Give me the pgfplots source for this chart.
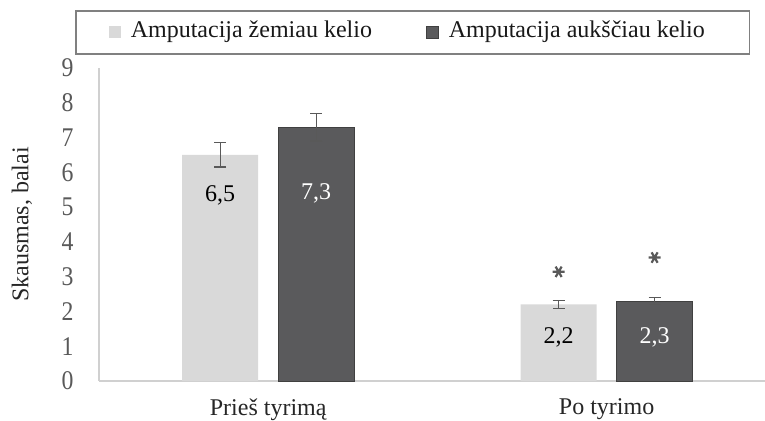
\documentclass[border=0pt]{standalone}
\usepackage{fontspec}
\setmainfont{Liberation Serif}
\usepackage{graphicx}
\usepackage{pgfplots}
\pgfplotsset{compat=1.18}
\definecolor{lightbar}{HTML}{D9D9D9}
\definecolor{darkbar}{HTML}{5A5A5C}
\definecolor{errc}{HTML}{595959}
\definecolor{axisc}{HTML}{D0D0D0}
\definecolor{tickc}{HTML}{595959}
\definecolor{legc}{HTML}{808080}
\pgfplotsset{mylegend/.style={legend image code/.code={\fill[##1] (0pt,-3pt) rectangle (6pt,3pt);}}}
\begin{document}
\begin{tikzpicture}
\begin{axis}[
  at={(0,0)}, anchor=south west,
  scale only axis, width=333pt, height=156.5pt,
  xmin=-0.5, xmax=1.468, ymin=0, ymax=9,
  axis x line*=bottom, axis y line*=left,
  axis line style={draw=axisc, line width=0.6pt},
  xtick={0,1}, xticklabels={Prieš tyrimą, Po tyrimo},
  ytick={0,1,...,9},
  yticklabel={\scalebox{0.88}[1]{\pgfmathprintnumber{\tick}}},
  major tick length=0pt,
  tick style={draw=none},
  /pgf/number format/assume math mode=true,
  yticklabel style={font=\fontsize{13.5}{15}\selectfont, text=tickc, inner sep=0pt, xshift=-12.5pt},
  xticklabel style={font=\fontsize{12}{14}\selectfont, text=black!85, inner sep=0pt, anchor=north, yshift=-8.5pt},
  ylabel={Skausmas, balai},
  ylabel style={font=\fontsize{12}{14}\selectfont, text=black!85, at={(axis description cs:-0.1156,0.5)}, anchor=center},
  legend columns=2,
  legend style={at={(axis description cs:-0.036,1.185)}, anchor=north west, draw=legc, line width=0.75pt,
    inner xsep=16.5pt, inner ysep=5pt,
    nodes={inner sep=0pt, text height=8.5pt, text depth=3pt, font=\fontsize{12}{14}\selectfont, text=black!90},
    /tikz/every odd column/.append style={column sep=5pt},
    /tikz/every even column/.append style={column sep=27pt}},
  clip=false,
]
\addplot[ybar, bar width=0.2245, bar shift=0pt, fill=lightbar, draw=none, mylegend,
  error bars/.cd, y dir=both, y explicit,
  error bar style={errc, line width=0.65pt},
  error mark options={rotate=90, errc, mark size=3pt, line width=0.65pt}]
  coordinates {(-0.1418,6.5) +- (0,0.35) (0.8582,2.2) +- (0,0.12)};
\addlegendentry{Amputacija žemiau kelio}
\addplot[ybar, bar width=0.2245, bar shift=0pt, fill=darkbar, draw=black!75, line width=0.4pt, mylegend,
  error bars/.cd, y dir=both, y explicit,
  error bar style={errc, line width=0.65pt},
  error mark options={rotate=90, errc, mark size=3pt, line width=0.65pt}]
  coordinates {(0.1418,7.3) +- (0,0.4) (1.1418,2.3) +- (0,0.1)};
\addlegendentry{Amputacija aukščiau kelio\rule{6pt}{0pt}}
\addplot[draw=none, mark=none, nodes near coords, point meta=explicit symbolic,
  every node near coord/.append style={anchor=center, font=\fontsize{12}{14}\selectfont, text=black}]
  table[meta=lab] {
x y lab
-0.1418 5.33 6,5
0.8582 1.25 2,2
};
\addplot[draw=none, mark=none, nodes near coords, point meta=explicit symbolic,
  every node near coord/.append style={anchor=center, font=\fontsize{12}{14}\selectfont, text=white}]
  table[meta=lab] {
x y lab
0.1418 5.40 7,3
1.1418 1.25 2,3
};
\addplot[only marks, mark=asterisk, mark size=3pt, mark options={rotate=90, draw=errc, line width=1.1pt}]
  coordinates {(0.8582,3.14) (1.1418,3.55)};
\end{axis}
\pgfresetboundingbox
\path[use as bounding box] (-49.5pt,-20pt) rectangle (333pt,190.5pt);
\end{tikzpicture}
\end{document}
